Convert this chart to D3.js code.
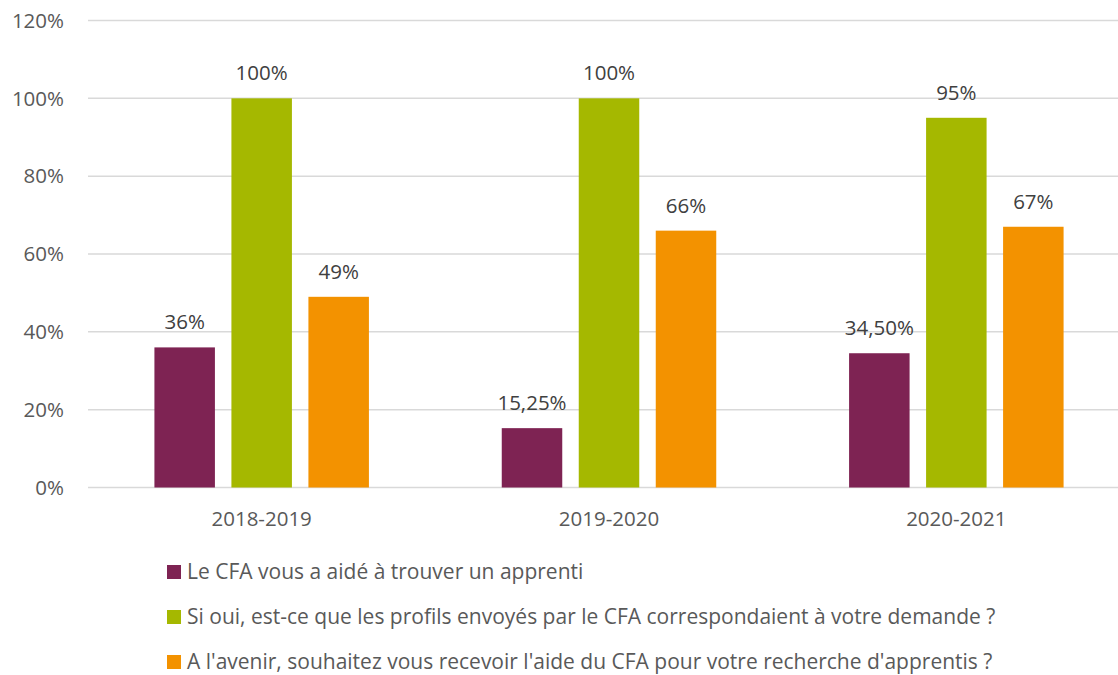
<!DOCTYPE html>
<html>
<head>
<meta charset="utf-8">
<script src="https://cdn.jsdelivr.net/npm/d3@7"></script>
<style>
  body { margin:0; background:#fff; }
  text { font-family: "Open Sans", sans-serif; font-variant-ligatures: none; }
</style>
</head>
<body>
<div id="plot"></div>
<script>
// data
var years = ['2018-2019', '2019-2020', '2020-2021'];
var seriesNames = [
	'Le CFA vous a aidé à trouver un apprenti',
	'Si oui, est-ce que les profils envoyés par le CFA correspondaient à votre demande ?',
	"A l'avenir, souhaitez vous recevoir l'aide du CFA pour votre recherche d'apprentis ?"
];
var aide = [36, 15.25, 34.5];
var profils = [100, 100, 95];
var avenir = [49, 66, 67];
var labelsAide = ['36%', '15,25%', '34,50%'];
var labelsProfils = ['100%', '100%', '95%'];
var labelsAvenir = ['49%', '66%', '67%'];
var yTicks = [0, 20, 40, 60, 80, 100, 120];
var colors = ['#7E2353', '#A5B800', '#F39200'];

var series = [aide, profils, avenir];
var seriesLabels = [labelsAide, labelsProfils, labelsAvenir];

var W = 1118, H = 675;
var svg = d3.select('#plot').append('svg')
	.attr('width', W).attr('height', H);

var x = d3.scaleBand().domain(years).range([88, 1130]);
var y = d3.scaleLinear().domain([0, 120]).range([487.5, 20.5]);
var barW = 60.5, barStep = 77;

// gridlines
svg.append('g').selectAll('line')
	.data(yTicks).enter().append('line')
	.attr('x1', 88).attr('x2', W)
	.attr('y1', function(d){ return y(d); })
	.attr('y2', function(d){ return y(d); })
	.style('stroke', '#d9d9d9').style('stroke-width', 1.5);

// y labels
svg.append('g').selectAll('text')
	.data(yTicks).enter().append('text')
	.attr('x', 64).attr('y', function(d){ return y(d); })
	.attr('dy', '0.35em')
	.attr('text-anchor', 'end')
	.style('font-size', '20.5px').style('fill', '#595959')
	.text(function(d){ return d + '%'; });

// bars
series.forEach(function(vals, s){
	var g = svg.append('g');
	g.selectAll('rect').data(vals).enter().append('rect')
		.attr('x', function(d, i){ return x(years[i]) + x.bandwidth()/2 + (s-1)*barStep - barW/2; })
		.attr('y', function(d){ return y(d); })
		.attr('width', barW)
		.attr('height', function(d){ return y(0) - y(d); })
		.style('fill', colors[s]);
	g.selectAll('text').data(vals).enter().append('text')
		.attr('x', function(d, i){ return x(years[i]) + x.bandwidth()/2 + (s-1)*barStep; })
		.attr('y', function(d){ return y(d) - 18; })
		.attr('text-anchor', 'middle')
		.style('font-size', '20.5px').style('fill', '#404040')
		.text(function(d, i){ return seriesLabels[s][i]; });
});

// x labels
svg.append('g').selectAll('text')
	.data(years).enter().append('text')
	.attr('x', function(d){ return x(d) + x.bandwidth()/2; })
	.attr('y', 519).attr('dy', '0.35em')
	.attr('text-anchor', 'middle')
	.style('font-size', '20.5px').style('fill', '#595959')
	.text(function(d){ return d; });

// legend
var leg = svg.append('g').selectAll('g')
	.data(seriesNames).enter().append('g')
	.attr('transform', function(d, i){ return 'translate(167,' + (572 + i*45) + ')'; });
leg.append('rect')
	.attr('x', 0).attr('y', -7).attr('width', 14).attr('height', 14)
	.style('fill', function(d, i){ return colors[i]; });
leg.append('text')
	.attr('x', 20).attr('dy', '0.35em')
	.style('font-size', '21px').style('fill', '#595959')
	.text(function(d){ return d; });
</script>
</body>
</html>
